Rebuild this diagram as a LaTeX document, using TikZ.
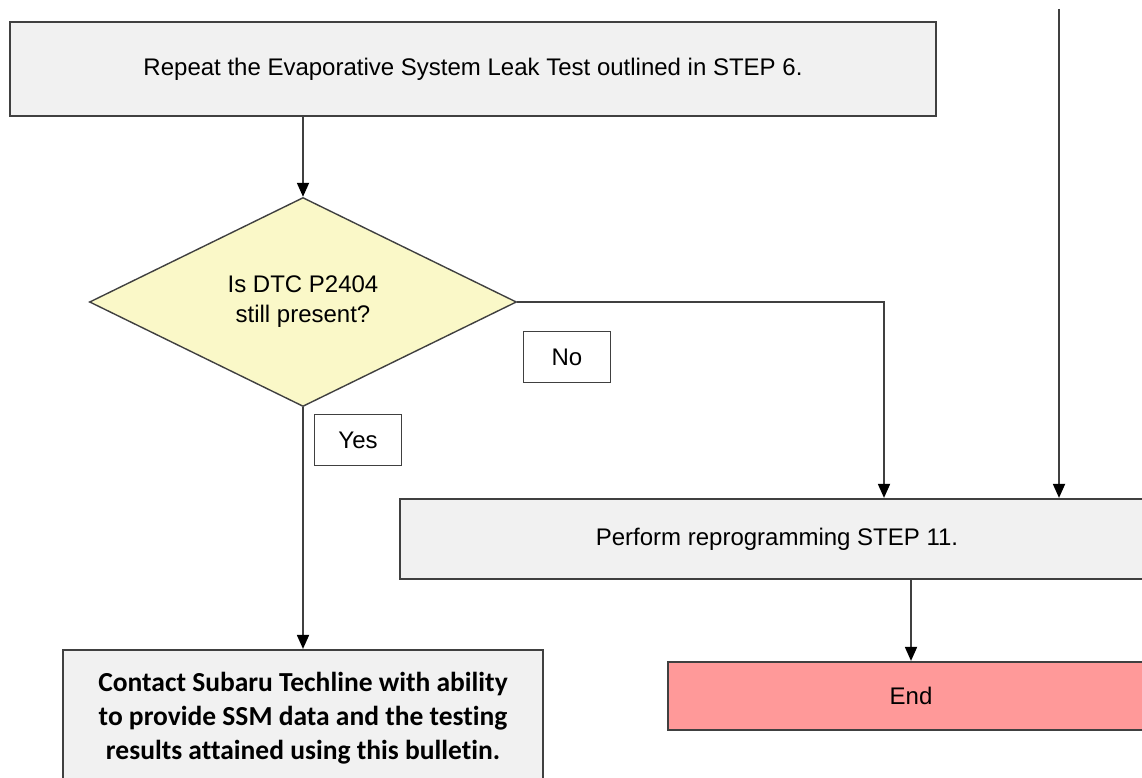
\documentclass[tikz,border=0pt]{standalone}
\usepackage{fontspec}
\setmainfont{Liberation Sans}
\newfontfamily\boldnote{Carlito}[BoldFont={Carlito Bold},Ligatures=NoCommon]
\usetikzlibrary{arrows.meta,shapes.geometric}

\definecolor{boxfill}{HTML}{F1F1F1}
\definecolor{askfill}{HTML}{FAF8C8}
\definecolor{endfill}{HTML}{FF9999}
\definecolor{edgegray}{HTML}{404040}

\begin{document}
\begin{tikzpicture}[x=1pt,y=-1pt,
    stepbox/.style={draw=edgegray,line width=2.2pt,fill=boxfill,rectangle,inner sep=0pt,
      font=\fontsize{24}{30}\selectfont},
    askbox/.style={draw=edgegray,line width=1.4pt,fill=askfill,diamond,inner sep=0pt,
      align=center,font=\fontsize{24}{30}\selectfont},
    tagbox/.style={draw=edgegray,line width=1.4pt,fill=white,rectangle,inner sep=0pt,
      minimum width=87pt,minimum height=51pt,font=\fontsize{24}{30}\selectfont},
    flow/.style={draw=edgegray,line width=1.8pt,
      -{Triangle[width=12pt,length=14pt,color=black]}}]
    \clip (0,0) rectangle (1142,778);
    \fill [white] (0,0) rectangle (1142,778);

    % boxes and the question
    \node [stepbox,minimum width=926pt,minimum height=94pt] (repeat) at (473,69)
      {Repeat the Evaporative System Leak Test outlined in STEP 6.};
    \node [askbox,minimum width=427pt,minimum height=209pt] (ask) at (303,302)
      {Is DTC P2404\\still present?};
    \node [stepbox,minimum width=754pt,minimum height=80pt] (reprog) at (777,539)
      {Perform reprogramming STEP 11.};
    \node [stepbox,fill=endfill,minimum width=486pt,minimum height=68pt] (finish) at (911,696)
      {End};
    \node [stepbox,minimum width=480pt,minimum height=136pt,align=center,
      font=\boldnote\bfseries\fontsize{27.5}{34}\selectfont] (techline) at (303,718)
      {Contact Subaru Techline with ability\\to provide SSM data and the testing\\results attained using this bulletin.};

    % answer tags
    \node [tagbox] (notag) at (567,357) {No};
    \node [tagbox] (yestag) at (358,440) {Yes};

    % connectors
    \coordinate (nodrop) at (884,0);
    \coordinate (feed) at (1059,9);
    \draw [flow] (repeat.south -| ask.north) -- (ask.north);
    \draw [flow] (ask.east) -| (nodrop |- reprog.north);
    \draw [flow] (ask.south) -- (techline.north);
    \draw [flow] (feed) -- (feed |- reprog.north);
    \draw [flow] (reprog.south -| finish.north) -- (finish.north);
\end{tikzpicture}
\end{document}
